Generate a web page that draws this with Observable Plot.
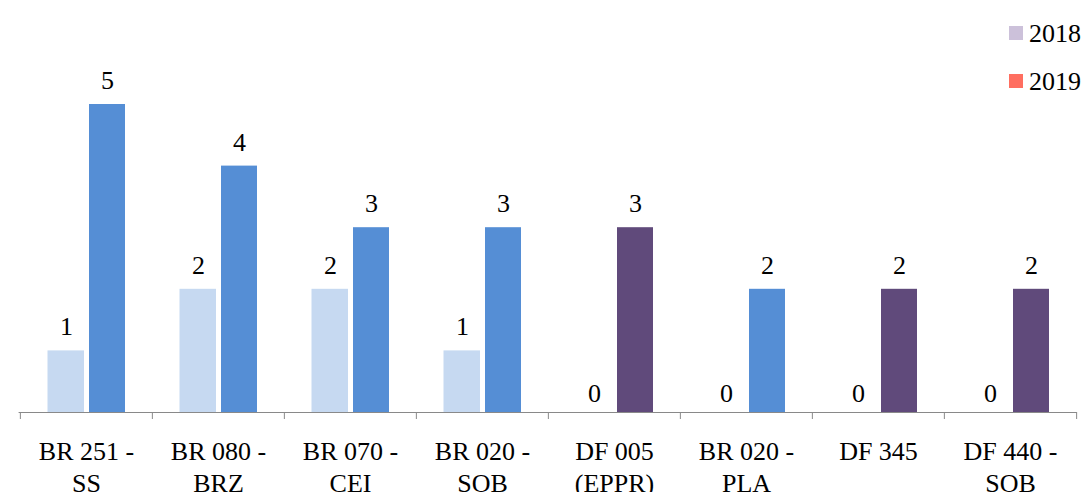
<!DOCTYPE html>
<html>
<head>
<meta charset="utf-8">
<script src="https://cdn.jsdelivr.net/npm/d3@7"></script>
<script src="https://cdn.jsdelivr.net/npm/@observablehq/plot@0.6"></script>
<style>
  html, body { margin: 0; padding: 0; background: #fff; }
  #wrap { position: relative; width: 1085px; height: 492px; overflow: hidden; font-family: "Liberation Serif", "DejaVu Serif", serif; }
  #wrap svg text { font-family: "Liberation Serif", "DejaVu Serif", serif !important; }
  #legend { position: absolute; left: 1009px; top: 0; font-size: 26px; color: #000; }
  .item { position: absolute; left: 0; white-space: nowrap; height: 30px; }
  .sw { position: absolute; left: 0; width: 14px; height: 14px; }
  .lab { position: absolute; left: 20px; line-height: 30px; }
</style>
</head>
<body>
<div id="wrap"><div id="legend"></div></div>
<script>
const categories = ["BR 251 -\nSS", "BR 080 -\nBRZ", "BR 070 -\nCEI", "BR 020 -\nSOB", "DF 005\n(EPPR)", "BR 020 -\nPLA", "DF 345", "DF 440 -\nSOB"];
const values2018 = [1, 2, 2, 1, 0, 0, 0, 0];
const values2019 = [5, 4, 3, 3, 3, 2, 2, 2];
const legendYears = ["2018", "2019"];
const legendColors = ["#CCC1DA", "#FF6E60"];

const color2018 = "#C6D9F1";
const colorBR = "#558ED5";
const colorDF = "#604A7B";
const axisGray = "#898989";
const font = "Liberation Serif, DejaVu Serif, serif";

const rows = categories.map((c, i) => ({
  category: c,
  v2018: values2018[i],
  v2019: values2019[i],
  road: c.slice(0, 2)
}));

const width = 1085, height = 492;
const marginLeft = 18.6, marginRight = 8.3, marginTop = 42.4, marginBottom = 80;
const bw = (width - marginLeft - marginRight) / categories.length;

const chart = Plot.plot({
  width, height, marginLeft, marginRight, marginTop, marginBottom,
  style: { fontFamily: font, fontSize: "26px", background: "transparent", overflow: "visible" },
  x: { domain: categories, padding: 0, axis: null },
  y: { domain: [0, 6], axis: null },
  color: { type: "identity" },
  marks: [
    Plot.barY(rows, { x: "category", y: "v2018", fill: color2018, insetLeft: 27.5, insetRight: 68 }),
    Plot.barY(rows, { x: "category", y: "v2019", fill: d => d.road === "DF" ? colorDF : colorBR, insetLeft: 69, insetRight: 27 }),
    Plot.ruleY([0], { stroke: axisGray, strokeWidth: 1.2 }),
    Plot.axisX(categories, { tickSize: 7, tickFormat: () => "", label: null, stroke: axisGray, dx: -bw / 2 }),
    Plot.axisX(categories.slice(-1), { tickSize: 7, tickFormat: () => "", label: null, stroke: axisGray, dx: bw / 2 }),
    Plot.text(categories, { x: d => d, frameAnchor: "bottom", dy: 25, lineAnchor: "top", lineHeight: 1.23, fontSize: 26, fill: "#000", fontFamily: font }),
    Plot.text(rows.filter(d => d.v2018 !== 0), { x: "category", y: "v2018", text: d => String(d.v2018), dx: -20, dy: -15.5, lineAnchor: "bottom", fontSize: 26, fill: "#000", fontFamily: font }),
    Plot.text(rows.filter(d => d.v2018 === 0), { x: "category", y: "v2018", text: d => String(d.v2018), dx: -20, dy: -10.5, lineAnchor: "bottom", fontSize: 26, fill: "#000", fontFamily: font }),
    Plot.text(rows, { x: "category", y: "v2019", text: d => String(d.v2019), dx: 21, dy: -15.5, lineAnchor: "bottom", fontSize: 26, fill: "#000", fontFamily: font })
  ]
});

const wrap = document.getElementById("wrap");
wrap.insertBefore(chart, wrap.firstChild);

const legend = document.getElementById("legend");
const rowTops = [19, 67];
legendYears.forEach((yr, i) => {
  const it = document.createElement("div");
  it.className = "item";
  it.style.top = rowTops[i] + "px";
  const sw = document.createElement("div");
  sw.className = "sw";
  sw.style.top = "7px";
  sw.style.background = legendColors[i];
  const lab = document.createElement("div");
  lab.className = "lab";
  lab.textContent = yr;
  it.appendChild(sw);
  it.appendChild(lab);
  legend.appendChild(it);
});
</script>
</body>
</html>
